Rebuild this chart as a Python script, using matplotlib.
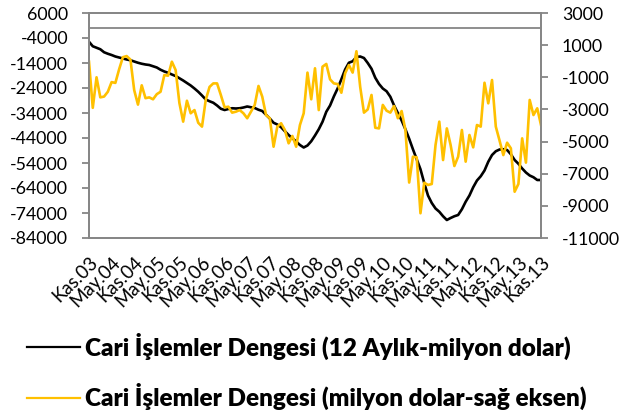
import matplotlib
matplotlib.use("Agg")
import matplotlib.pyplot as plt
import numpy as np

# 12 aylik cari islemler dengesi (milyon dolar), Kas.03 - Kas.13, sol eksen
cari_12ay = [
    -5500, -7300, -7900, -8500, -9700, -10300, -10800, -11400, -11800, -12200,
    -12600, -12900, -13400, -13900, -14300, -14600, -14800, -15300, -15800, -16700,
    -17400, -17900, -18600, -19200, -20100, -21000, -22000, -23000, -24200, -25500,
    -27000, -28600, -29300, -29900, -31000, -32300, -32800, -32400, -32100, -32200,
    -32100, -31800, -31400, -31700, -32000, -32700, -33200, -34700, -36200, -37900,
    -38600, -39700, -41300, -42800, -44100, -45400, -46800, -47800, -47000, -45300,
    -43000, -40500, -37500, -33500, -31000, -27400, -24200, -20500, -16600, -13900,
    -13300, -11600, -11400, -12000, -14000, -16300, -19900, -22400, -24200, -25300,
    -27500, -31000, -34000, -37000, -40500, -44300, -48500, -52500, -56500, -62000,
    -67000, -70000, -72200, -73500, -75300, -76800, -76000, -75300, -74800, -72500,
    -69500, -67000, -63700, -61000, -59300, -57000, -53500, -50800, -49300, -48600,
    -48500, -48800, -50500, -52800, -54300, -56200, -57800, -59000, -59700, -60800,
    -60800,
]

# aylik cari islemler dengesi (milyon dolar), sag eksen
cari_aylik = [
    -30, -2900, -1000, -2250, -2200, -1900, -1300, -1350, -500, 250,
    320, 100, -1800, -2700, -1500, -2300, -2250, -2370, -2050, -1900,
    -860, -900, -30, -550, -2600, -3760, -2460, -3240, -3040, -3830,
    -4070, -2400, -1600, -1380, -1380, -2100, -2870, -2830, -3200, -3140,
    -3040, -3240, -3550, -3140, -2720, -1540, -2210, -3350, -3550, -5320,
    -4070, -3860, -4280, -5110, -4650, -5320, -3970, -3240, -710, -2370,
    -440, -3040, -340, -170, -1130, -1380, -1420, -1960, -750, -240,
    -710, 620, -1600, -3200, -3000, -2100, -4140, -4180, -2720, -3080,
    -3200, -2790, -3550, -3100, -4280, -7550, -5940, -5980, -9460, -7560,
    -7700, -7640, -5210, -3760, -6150, -4180, -5210, -6520, -5940, -4280,
    -6250, -4590, -5360, -3970, -4070, -1340, -2620, -1170, -4070, -4940,
    -5840, -5070, -5420, -8120, -7640, -4800, -6310, -2410, -3350, -2930,
    -3970,
]

tick_labels = ["Kas.03", "May.04", "Kas.04", "May.05", "Kas.05", "May.06", "Kas.06",
               "May.07", "Kas.07", "May.08", "Kas.08", "May.09", "Kas.09", "May.10",
               "Kas.10", "May.11", "Kas.11", "May.12", "Kas.12", "May.13", "Kas.13"]

label_black = "Cari İşlemler Dengesi (12 Aylık-milyon dolar)"
label_yellow = "Cari İşlemler Dengesi (milyon dolar-sağ eksen)"

plt.rcParams['font.family'] = ['Lato', 'DejaVu Sans']
plt.rcParams['axes.unicode_minus'] = False
grey = '#868686'

fig = plt.figure(figsize=(6.23, 4.12), dpi=100)
ax = fig.add_axes([89/623, 1 - 238/412, 452/623, 225/412])
ax2 = ax.twinx()

x = np.arange(len(cari_12ay))
l1, = ax.plot(x, cari_12ay, color='black', lw=1.9)
l2, = ax2.plot(x, cari_aylik, color='#FFC000', lw=1.9)

ax.axhline(0, color=grey, lw=1.3, zorder=0)

ax.set_xlim(0, len(x) - 1)
ax.set_ylim(-84000, 6000)
ax2.set_ylim(-11000, 3000)
ax.set_yticks(np.arange(-84000, 6001, 10000))
ax2.set_yticks(np.arange(-11000, 3001, 2000))

ax.set_xticks(np.arange(0, len(x), 6))
ax.set_xticklabels(tick_labels, rotation=45, ha='right', rotation_mode='anchor')
ax.tick_params(axis='x', length=0, pad=11, labelsize=13.5)
ax.tick_params(axis='y', length=5, width=1.3, color=grey, labelsize=12.8, pad=10)
ax2.tick_params(axis='y', length=5, width=1.3, color=grey, labelsize=12.8, pad=10)

for a in (ax, ax2):
    for s in a.spines.values():
        s.set_color(grey)
        s.set_linewidth(1.3)

leg = fig.legend([l1, l2], [label_black, label_yellow], loc='upper left',
                 bbox_to_anchor=(27/623, 1 - 333/412), frameon=False,
                 prop={'weight': 'heavy', 'size': 17.5}, handlelength=2.2,
                 handletextpad=0.2, labelspacing=0.95, borderpad=0,
                 borderaxespad=0)
for ln in leg.get_lines():
    ln.set_linewidth(1.6)

fig.savefig('out.png', dpi=100)
